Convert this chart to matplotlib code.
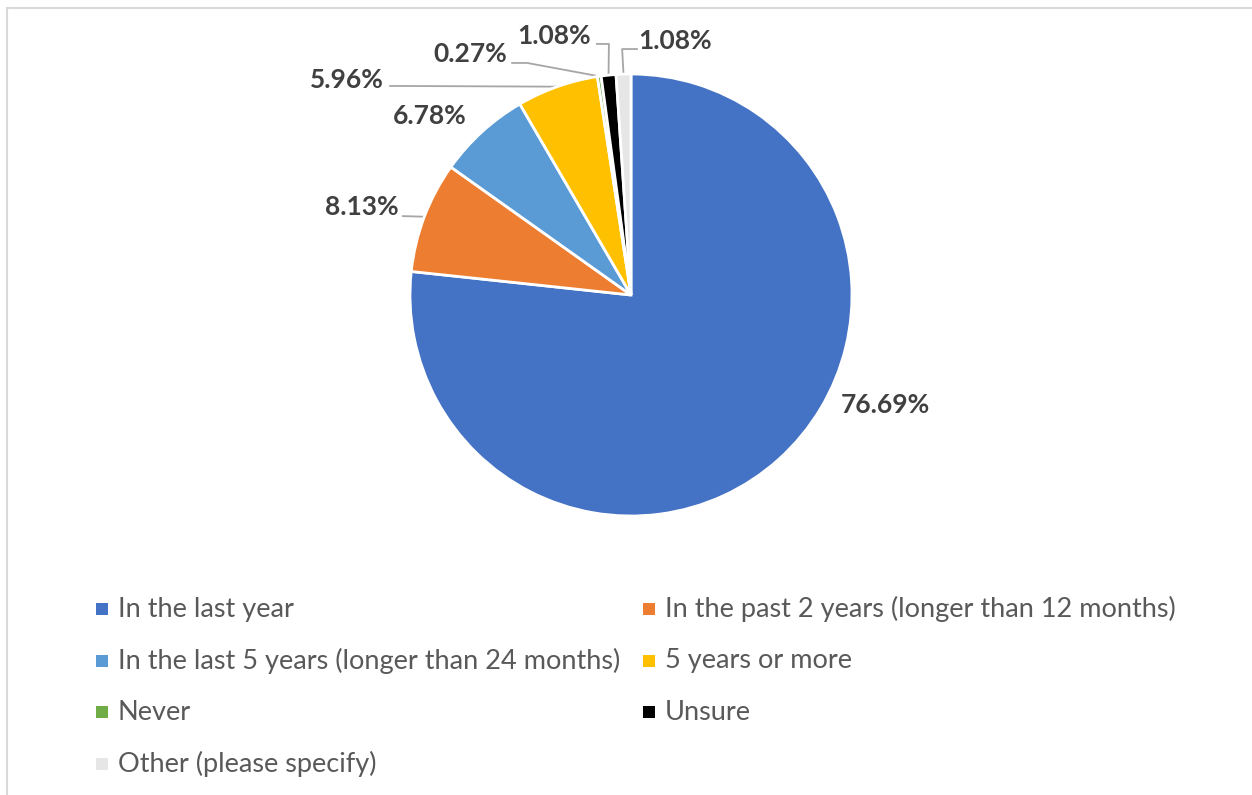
import numpy as np
import matplotlib.pyplot as plt
from matplotlib.patches import Rectangle

# Dados do gráfico
categories = ["In the last year", "In the past 2 years (longer than 12 months)",
              "In the last 5 years (longer than 24 months)", "5 years or more",
              "Never", "Unsure", "Other (please specify)"]
values = [76.69, 8.13, 6.78, 5.96, 0.27, 1.08, 1.08]
colors = ["#4472C4", "#ED7D31", "#5B9BD5", "#FFC000", "#70AD47", "#000000", "#E7E6E6"]

# posição dos rótulos (em unidades do raio) e pontos da linha guia
label_pos = [(1.149, -0.498), (-1.219, 0.396), (-0.909, 0.810), (-1.285, 0.973),
             (-0.729, 1.090), (-0.348, 1.172), (0.201, 1.149)]
leaders = {1: [(-1.032, 0.357)],
           3: [(-1.090, 0.946)],
           4: [(-0.538, 1.050), (-0.470, 1.050)],
           5: [(-0.154, 1.136), (-0.100, 1.136)],
           6: [(0.027, 1.113), (-0.040, 1.113)]}

W, H = 1252, 795
fig = plt.figure(figsize=(W / 100, H / 100), dpi=100)
plt.rcParams['font.family'] = ['Lato', 'DejaVu Sans']

# moldura
fig.patches.append(Rectangle((6.5 / W, -0.1), 1.2, (H - 7.5) / H + 0.1, transform=fig.transFigure,
                             facecolor="none", edgecolor="#D9D9D9", lw=1.5))

cx, cy, r = 631, 295, 221
ax = fig.add_axes([(cx - r) / W, (H - cy - r) / H, 2 * r / W, 2 * r / H])
wedges, _ = ax.pie(values, colors=colors, startangle=90, counterclock=False, radius=1,
                   wedgeprops=dict(edgecolor="white", linewidth=2))
ax.set_xlim(-1, 1)
ax.set_ylim(-1, 1)
ax.set_aspect("equal")
ax.axis("off")

for i, (w, v) in enumerate(zip(wedges, values)):
    lx, ly = label_pos[i]
    ax.text(lx, ly, f"{v:.2f}%", ha="center", va="center", fontsize=19,
            fontweight="bold", color="#404040", clip_on=False)
    if i in leaders:
        mid = np.deg2rad((w.theta1 + w.theta2) / 2)
        pts = leaders[i] + [(np.cos(mid), np.sin(mid))]
        xs, ys = zip(*pts)
        ax.plot(xs, ys, color="#A6A6A6", lw=1.3, clip_on=False, zorder=0)

# legenda
for i, (lab, c) in enumerate(zip(categories, colors)):
    row, col = i // 2, i % 2
    x = [96, 643][col]
    y = 609 + 51.7 * row
    fig.patches.append(Rectangle((x / W, (H - y - 6) / H), 12 / W, 12 / H,
                                 transform=fig.transFigure, facecolor=c, edgecolor="none"))
    fig.text((x + 22) / W, (H - y) / H, lab, ha="left", va="center",
             fontsize=19.5, color="#595959")

plt.savefig("out.png", dpi=100)
